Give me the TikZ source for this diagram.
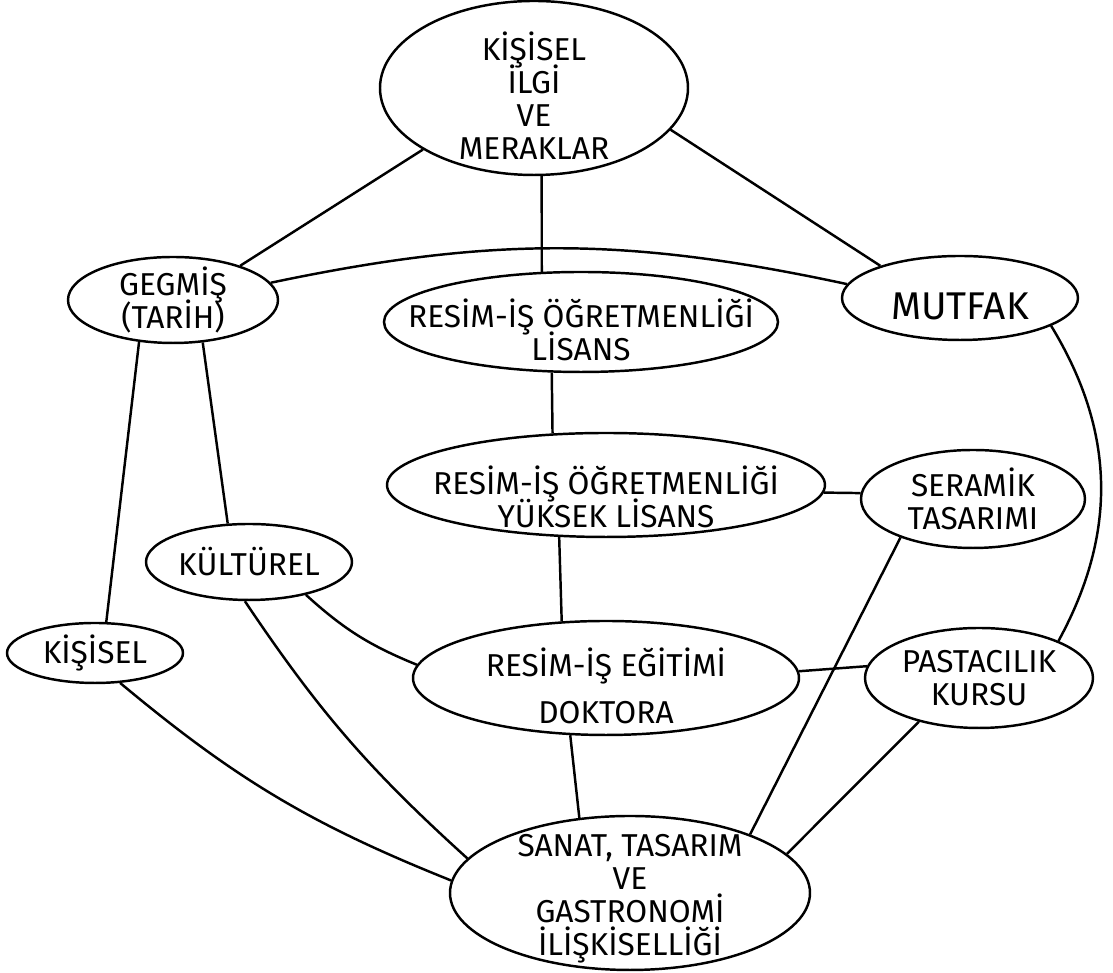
\documentclass[tikz,border=0pt]{standalone}
\usepackage{fontspec}
\setmainfont{Fira Sans}
\usetikzlibrary{shapes.geometric}

\tikzset{
  bubble/.style={draw, ellipse, inner sep=0pt, line width=0.7pt},
  caption/.style={align=center, inner sep=0pt,
    font=\fontsize{9}{9.4}\selectfont,
    execute at begin node={\lineskiplimit=-16000pt\relax}},
  link/.style={line width=0.7pt},
}

\begin{document}
\begin{tikzpicture}
  \useasboundingbox (0,0) rectangle (11.13,9.73);
  \node[bubble, minimum width=3.08cm, minimum height=1.74cm,
    label={[caption, yshift=-0.08cm]center:{KİŞİSEL\\İLGİ\\VE\\MERAKLAR}}] (top) at (5.34,8.85) {};
  \node[bubble, minimum width=2.10cm, minimum height=0.86cm,
    label={[caption]center:{GEGMİŞ\\(TARİH)}}] (gecmis) at (1.73,6.73) {};
  \node[bubble, minimum width=3.94cm, minimum height=1.00cm,
    label={[caption, yshift=-0.08cm]center:{RESİM-İŞ ÖĞRETMENLİĞİ\\LİSANS}}] (lisans) at (5.81,6.51) {};
  \node[bubble, minimum width=2.36cm, minimum height=0.84cm,
    label={[caption, yshift=-0.08cm, font=\fontsize{11}{13}\selectfont]center:MUTFAK}] (mutfak) at (9.60,6.75) {};
  \node[bubble, minimum width=4.38cm, minimum height=1.04cm,
    label={[caption, yshift=-0.12cm]center:{RESİM-İŞ ÖĞRETMENLİĞİ\\YÜKSEK LİSANS}}] (yuksek) at (6.06,4.88) {};
  \node[bubble, minimum width=2.24cm, minimum height=0.98cm,
    label={[caption]center:{SERAMİK\\TASARIMI}}] (seramik) at (9.73,4.74) {};
  \node[bubble, minimum width=2.06cm, minimum height=0.76cm,
    label={[caption]center:KÜLTÜREL}] (kulturel) at (2.49,4.11) {};
  \node[bubble, minimum width=1.76cm, minimum height=0.60cm,
    label={[caption]center:KİŞİSEL}] (kisisel) at (0.95,3.20) {};
  \node[bubble, minimum width=3.86cm, minimum height=1.14cm,
    label={[caption, yshift=-0.08cm]center:{RESİM-İŞ EĞİTİMİ\\[4pt]DOKTORA}}] (doktora) at (6.06,2.95) {};
  \node[bubble, minimum width=2.28cm, minimum height=1.00cm,
    label={[caption]center:{PASTACILIK\\KURSU}}] (pasta) at (9.79,2.95) {};
  \node[bubble, minimum width=3.60cm, minimum height=1.54cm,
    label={[caption, yshift=-0.06cm]center:{SANAT, TASARIM\\VE\\GASTRONOMİ\\İLİŞKİSELLİĞİ}}] (sanat) at (6.30,0.80) {};

  % connections
  \draw[link] (top.209) -- (gecmis.27);
  \draw[link] (top.275) -- (lisans.128);
  \draw[link] (top.343) -- (mutfak.158);
  \draw[link] (gecmis.10) to[bend left=12] (mutfak.173);
  \draw[link] (gecmis.231) -- (kisisel.70);
  \draw[link] (gecmis.305) -- (kulturel.119);
  \draw[link] (lisans.240) -- (yuksek.136);
  \draw[link] (yuksek.358) -- (seramik.177);
  \draw[link] (yuksek.228) -- (doktora.128);
  \draw[link] (mutfak.343) to[bend left=30] (pasta.25);
  \draw[link] (seramik.208) -- (sanat.26);
  \draw[link] (kulturel.330) to[bend right=10] (doktora.176);
  \draw[link] (kulturel.264) to[bend right=7] (sanat.168);
  \draw[link] (kisisel.310) to[bend right=9] (sanat.176);
  \draw[link] (doktora.2) -- (pasta.174);
  \draw[link] (doktora.238) -- (sanat.124);
  \draw[link] (pasta.216) -- (sanat.14);
\end{tikzpicture}
\end{document}
